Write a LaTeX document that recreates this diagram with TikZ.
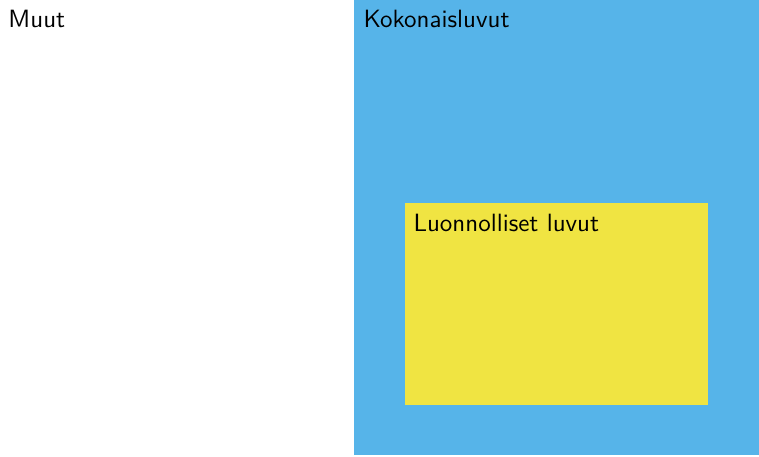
\documentclass[tikz,border=0pt]{standalone}
\usepackage{fontspec}
\setmainfont{Latin Modern Sans}
\definecolor{skyb}{HTML}{56B4E9}
\definecolor{yell}{HTML}{F0E442}
\begin{document}
\begin{tikzpicture}[x=0.4pt,y=0.4pt,
  lbl/.style={anchor=base west,inner sep=0pt,font=\fontsize{10}{12}\selectfont}]
\useasboundingbox (0,0) rectangle (759,456);
\fill[white] (0,0) rectangle (759,456);
\fill[skyb] (354,1) rectangle (759,456);
\fill[yell] (405,51) rectangle (708,253);
\node[lbl] (muut) at (8,429) {Muut};
\node[lbl] (koko) at (363,429) {Kokonaisluvut};
\node[lbl] (luon) at (413,225) {Luonnolliset luvut};
\end{tikzpicture}
\end{document}
